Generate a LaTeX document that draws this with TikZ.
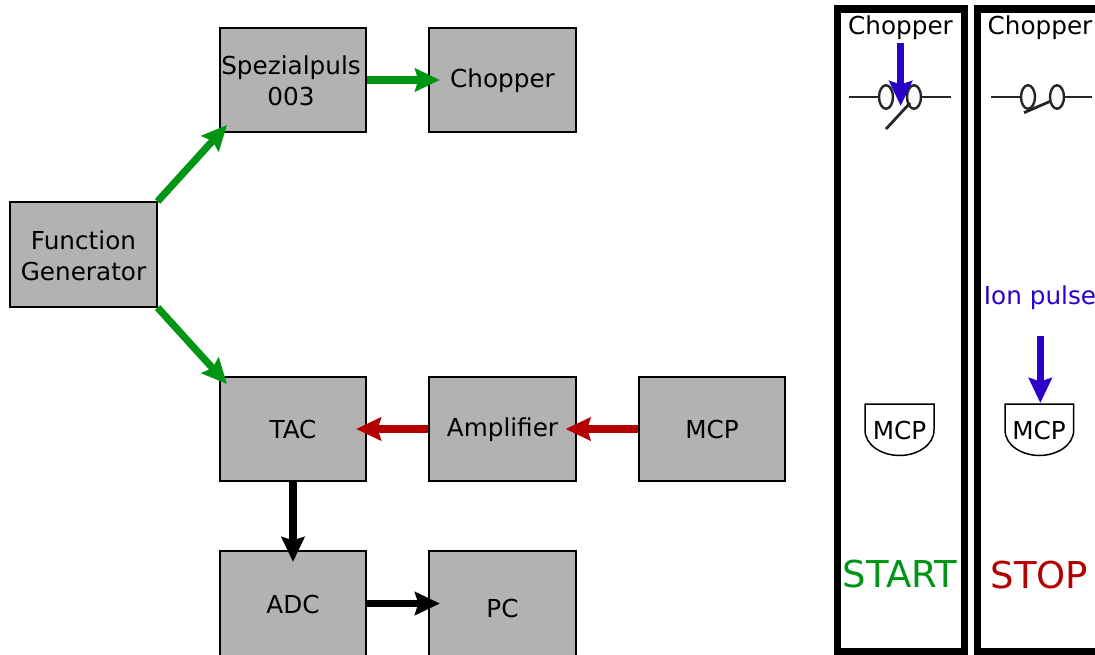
\documentclass[tikz,border=0pt]{standalone}
\usepackage{fontspec}
\setmainfont{DejaVu Sans}
\usetikzlibrary{arrows.meta,shapes.geometric}
\definecolor{boxgray}{HTML}{B2B2B2}
\definecolor{grn}{HTML}{009614}
\definecolor{rd}{HTML}{B40000}
\definecolor{blu}{HTML}{2B00C8}
\newcommand{\lbl}[2]{\raisebox{#1pt}[0pt][0pt]{#2}}
\tikzset{
  txt/.style={font=\fontsize{24.7}{30}\selectfont,align=center,inner sep=0pt},
  blockbox/.style={draw=black,line width=1.6pt,fill=boxgray,minimum width=146.5pt,minimum height=104.5pt,inner sep=0pt,font=\fontsize{24.7}{30}\selectfont,align=center},
  flow/.style={line width=7.2pt,-{Stealth[length=25pt,width=23pt,inset=3.5pt]}},
  panel/.style={draw=black,line width=7.6pt},
  wire/.style={draw=black!85,line width=2.8pt},
  contact/.style={ellipse,draw=black!85,line width=2.4pt,fill=black!2,minimum width=14pt,minimum height=23.5pt,inner sep=0pt},
  mcpshape/.style={draw=black,line width=1.5pt,fill=white}
}
\begin{document}
\begin{tikzpicture}[x=1pt,y=-1pt]
\useasboundingbox (0,0) rectangle (1095,655);
\clip (0,0) rectangle (1095,655);
% blocks
\node[blockbox] (fg) at (83.5,254.5) {\lbl{-26.5}{\begin{tabular}[b]{@{}c@{}}Function\\[1pt]Generator\end{tabular}}};
\node[blockbox] (sp) at (293,80) {\lbl{-25.3}{\hspace{-4pt}\begin{tabular}[b]{@{}c@{}}Spezialpuls\\[0.5pt]003\end{tabular}}};
\node[blockbox] (ch) at (502.5,80) {\lbl{-7.5}{Chopper}};
\node[blockbox] (tac) at (293,429) {\lbl{-9.7}{TAC}};
\node[blockbox] (amp) at (502.5,429) {\lbl{-7}{Amplifier}};
\node[blockbox] (mcp) at (712,429) {\lbl{-9}{MCP}};
\node[blockbox] (adc) at (293,603.5) {\lbl{-10}{ADC}};
\node[blockbox] (pc) at (502.5,603.5) {\lbl{-14}{PC}};
% connectors
\draw[flow,grn] (fg.north east) -- ([xshift=8pt,yshift=8pt]sp.south west);
\draw[flow,grn] (sp.east) -- ([xshift=11.5pt]ch.west);
\draw[flow,grn] (fg.south east) -- ([xshift=8pt,yshift=-8pt]tac.north west);
\draw[flow,rd] (amp.west) -- ([xshift=-11pt]tac.east);
\draw[flow,rd] (mcp.west) -- ([xshift=-11pt]amp.east);
\draw[flow,black] (tac.south) -- ([yshift=-11.5pt]adc.north);
\draw[flow,black] (adc.east) -- ([xshift=11.5pt]pc.west);
% panels
\draw[panel] (837.5,9) rectangle (964.5,652);
\draw[panel] (977.5,9) rectangle (1120,652);
% left panel
\node[txt] (cl) at (900.5,25.5) {\lbl{-9}{Chopper}};
\node[contact] (la) at (886,97) {};
\node[contact] (lb) at (914,97) {};
\coordinate (lw1) at (849,97);
\coordinate (lw2) at (951,97);
\coordinate (ll1) at (886,129);
\coordinate (ll2) at (910,103);
\draw[wire] (lw1) -- (la);
\draw[wire] (lb) -- (lw2);
\draw[wire] (ll1) -- (ll2);
\coordinate (ba1) at (900.7,43);
\coordinate (ba2) at (900.7,106);
\draw[flow,blu] (ba1) -- (ba2);
\draw[mcpshape] (865,404) -- (934,404) -- (934,430) .. controls (934,446) and (916,455.5) .. (899.5,455.5) .. controls (883,455.5) and (865,446) .. (865,430) -- cycle;
\node[txt] (ml) at (899.5,430.5) {\lbl{-9}{MCP}};
\node[txt,text=grn,font=\fontsize{37}{44}\selectfont] (st) at (900,573.5) {\lbl{-13.5}{START}};
% right panel
\node[txt] (cr) at (1040,25.5) {\lbl{-9}{Chopper}};
\node[contact] (ra) at (1028,97) {};
\node[contact] (rb) at (1057,97) {};
\coordinate (rw1) at (991,97);
\coordinate (rw2) at (1092,97);
\coordinate (rl1) at (1024,112.7);
\coordinate (rl2) at (1051,101);
\draw[wire] (rw1) -- (ra);
\draw[wire] (rb) -- (rw2);
\draw[wire] (rl1) -- (rl2);
\node[txt,text=blu] (ion) at (1040,295) {\lbl{-9}{Ion pulse}};
\coordinate (bb1) at (1040.3,336);
\coordinate (bb2) at (1040.3,403);
\draw[flow,blu] (bb1) -- (bb2);
\draw[mcpshape] (1005,404) -- (1073.7,404) -- (1073.7,430) .. controls (1073.7,446) and (1056,455.5) .. (1039.3,455.5) .. controls (1023,455.5) and (1005,446) .. (1005,430) -- cycle;
\node[txt] (mr) at (1039,430.5) {\lbl{-9}{MCP}};
\node[txt,text=rd,font=\fontsize{37}{44}\selectfont] (sr) at (1039.5,574.5) {\lbl{-13.5}{STOP}};
\end{tikzpicture}
\end{document}
